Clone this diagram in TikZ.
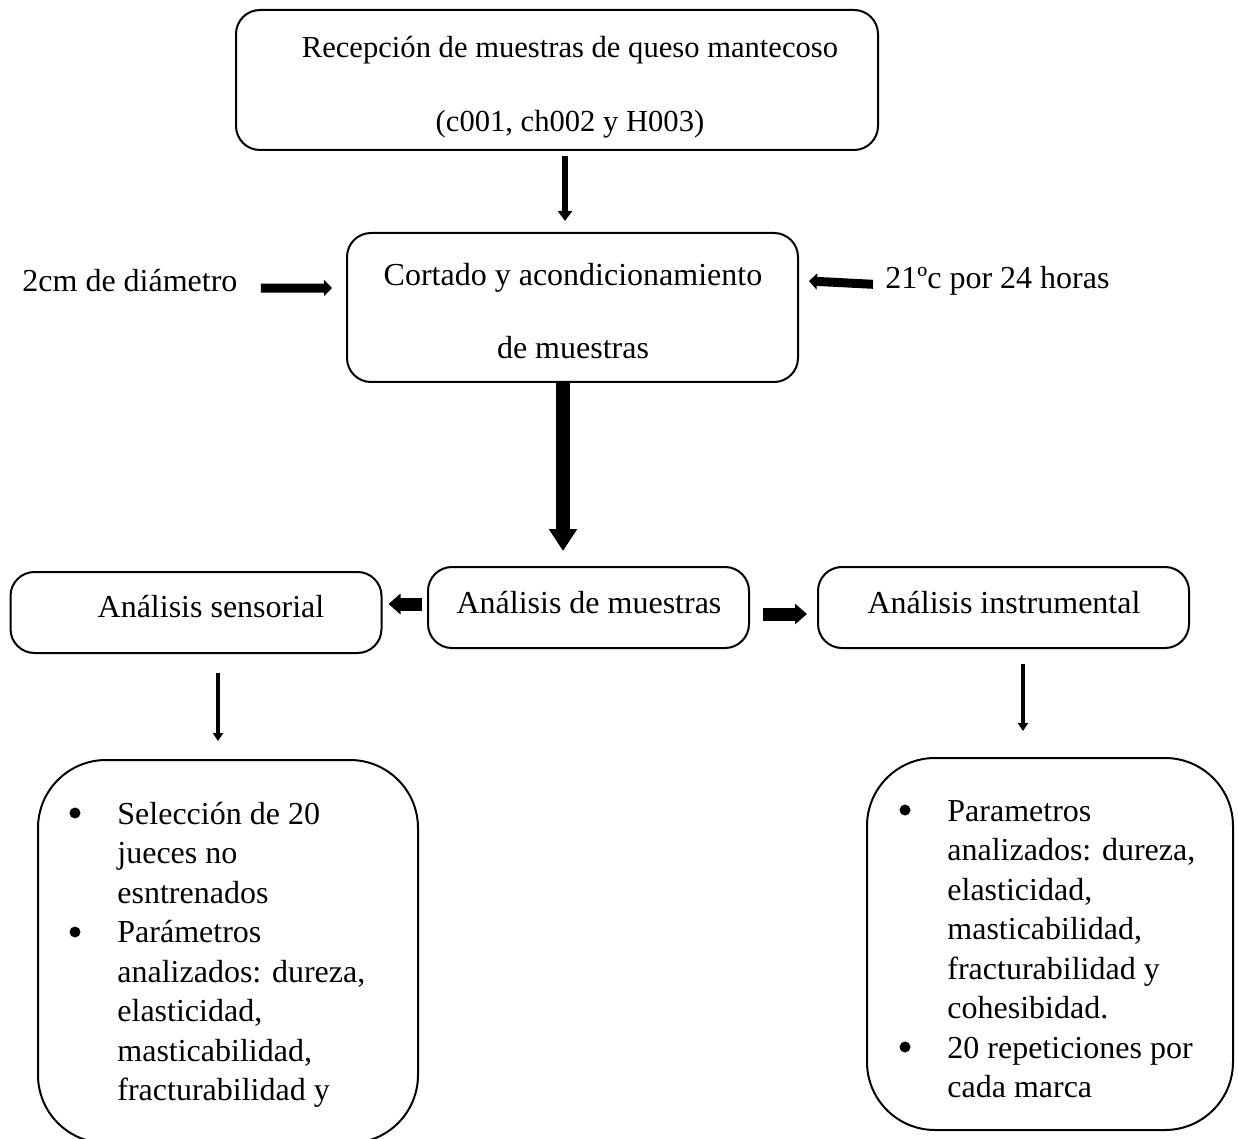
\documentclass[tikz,border=0pt]{standalone}
\usepackage{fontspec}
\setmainfont{Liberation Serif}
\usetikzlibrary{arrows.meta}
\begin{document}
\begin{tikzpicture}[x=0.5pt,y=-0.5pt,
  box/.style={draw, line width=1pt, rounded corners=12pt, inner sep=0pt},
  btxt/.style={align=center, inner sep=0pt, font=\fontsize{16}{36.5}\selectfont},
  bigbox/.style={draw, line width=1pt, rounded corners=34pt, inner sep=0pt},
  lbl/.style={font=\fontsize{16}{18}\selectfont, inner sep=0pt},
  btext/.style={font=\fontsize{16}{19.75}\selectfont, inner sep=0pt, anchor=base west},
  bul/.style={circle, fill=black, inner sep=0pt, minimum size=5.5pt},
  arrA/.style={line width=3pt, -{Triangle[width=7pt,length=5pt]}},
  arrBig/.style={line width=7pt, -{Triangle[width=13.5pt,length=11pt]}},
  arrSide/.style={line width=4.5pt, -{Triangle[width=8pt,length=4pt]}},
  arrMid/.style={line width=6.5pt, -{Triangle[width=10pt,length=6pt]}},
  arrThin/.style={line width=2pt, -{Triangle[width=5pt,length=4pt]}}]
\useasboundingbox (0,0) rectangle (1238,1139);
\clip (0,0) rectangle (1238,1139);

% boxes
\node[box, minimum width=321pt, minimum height=70pt] (b1) at (557,80) {};
\node[btxt, font=\fontsize{15.3}{37}\selectfont] (b1t) at (570,87)
  {Recepción de muestras de queso mantecoso\\(c001, ch002 y H003)};
\node[box, minimum width=225.5pt, minimum height=74.5pt] (b2) at (572.5,307.5) {};
\node[btxt] (b2t) at (573,311) {Cortado y acondicionamiento\\de muestras};
\node[box, minimum width=160.5pt, minimum height=40.5pt] (b3) at (588.5,607.5) {};
\node[btxt] (b3t) at (589,603) {Análisis de muestras};
\node[box, minimum width=185.5pt, minimum height=40.5pt] (bl) at (196,612.5) {};
\node[btxt] (blt) at (211,607) {Análisis sensorial};
\node[box, minimum width=185.5pt, minimum height=40.5pt] (br) at (1003.5,607.5) {};
\node[btxt] (brt) at (1004,603) {Análisis instrumental};

% side labels
\node[lbl, anchor=base west] (l2cm) at (22,292) {2cm de diámetro};
\node[lbl, anchor=base west] (l21) at (885,289) {21ºc por 24 horas};

% bottom boxes
\node[bigbox, minimum width=190pt, minimum height=191.5pt] (sl) at (228,951.5) {};
\node[bigbox, minimum width=183pt, minimum height=186pt] (sr) at (1050,944) {};

% left bullets
\node[bul] (dl1) at (75,813) {};
\node[bul] (dl2) at (75,932) {};
\node[btext] (tl) at (117,824) {\begin{tabular}[t]{@{}l@{}}Selección de 20\\jueces no\\esntrenados\\Parámetros\\analizados: dureza,\\elasticidad,\\masticabilidad,\\fracturabilidad y\end{tabular}};

% right bullets
\node[bul] (dr1) at (905,810) {};
\node[bul] (dr2) at (905,1047) {};
\node[btext] (tr) at (947,821) {\begin{tabular}[t]{@{}l@{}}Parametros\\analizados: dureza,\\elasticidad,\\masticabilidad,\\fracturabilidad y\\cohesibidad.\\20 repeticiones por\\cada marca\end{tabular}};

% connectors
\draw[arrA] ([xshift=4pt,yshift=-2.5pt]b1.south) -- ([xshift=-3.75pt,yshift=5.5pt]b2.north);
\draw[arrBig] ([xshift=-4.75pt]b2.south) -- ([xshift=-12.75pt,yshift=7.5pt]b3.north);
\draw[arrSide] ([xshift=11.5pt,yshift=-3.5pt]l2cm.east) -- ([xshift=-7pt,yshift=9.75pt]b2.west);
\draw[arrSide] ([xshift=-6pt,yshift=-1.5pt]l21.west) -- ([xshift=5pt,yshift=13.25pt]b2.east);
\draw[arrMid] ([xshift=-2.5pt,yshift=1.75pt]b3.west) -- ([xshift=3pt,yshift=4.25pt]bl.east);
\draw[arrMid] ([xshift=6.5pt,yshift=-3.25pt]b3.east) -- ([xshift=-5pt,yshift=-3.25pt]br.west);
\draw[arrThin] ([xshift=11pt,yshift=-9.5pt]bl.south) -- ([xshift=-5pt,yshift=9pt]sl.north);
\draw[arrThin] ([xshift=9.75pt,yshift=-7.5pt]br.south) -- ([xshift=-13.5pt,yshift=13pt]sr.north);
\end{tikzpicture}
\end{document}
